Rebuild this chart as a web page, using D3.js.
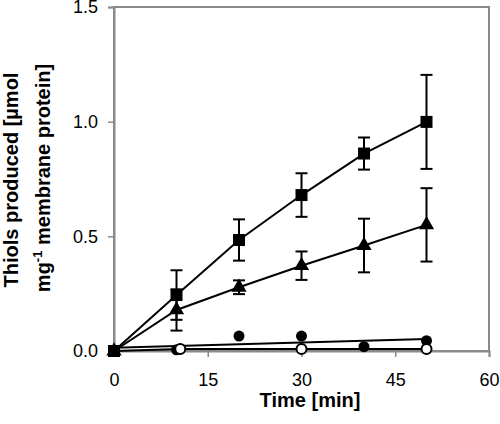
<!DOCTYPE html>
<html><head><meta charset="utf-8">
<script src="https://cdn.jsdelivr.net/npm/d3@7/dist/d3.min.js"></script>
<style>body{margin:0;background:#fff}svg{display:block}text{font-family:"Liberation Sans",Arial,sans-serif}</style>
</head><body><svg id="c" width="500" height="424"></svg>
<script>
// Data
const timeSquares = [0, 10, 20, 30, 40, 50];
const squares     = [0, 0.244, 0.484, 0.68, 0.861, 0.999];
const squaresErr  = [0, 0.108, 0.09, 0.095, 0.07, 0.205];
const timeTriangles = [0, 10, 20, 30, 40, 50];
const triangles     = [0, 0.179, 0.278, 0.372, 0.46, 0.55];
const trianglesErr  = [0, 0.09, 0.03, 0.062, 0.117, 0.16];
const timeFilled = [0, 10, 20, 30, 40, 50];
const filled     = [0, 0.005, 0.065, 0.065, 0.019, 0.045];
const timeOpen = [0, 10.6, 30, 50];
const open     = [0, 0.009, 0.009, 0.009];
const xTicks = [0, 15, 30, 45, 60];
const yTicks = [0, 0.5, 1.0, 1.5];

const svg = d3.select("#c");
const x = d3.scaleLinear().domain([0, 60]).range([114, 489]);
const y = d3.scaleLinear().domain([0, 1.5]).range([351, 7]);
const gray = "#8a8a8a";

// frame
svg.append("rect").attr("x", x(0)).attr("y", y(1.5)).attr("width", x(60)-x(0)).attr("height", y(0)-y(1.5))
  .attr("fill", "none").attr("stroke", gray).attr("stroke-width", 2);

const yAxis = d3.axisLeft(y).tickValues(yTicks).tickFormat(d3.format(".1f")).tickSize(6).tickPadding(10);
const gy = svg.append("g").attr("transform", `translate(${x(0)},0)`).call(yAxis);
const xAxis = d3.axisBottom(x).tickValues(xTicks).tickFormat(d3.format("d")).tickSize(6).tickPadding(16);
const gx = svg.append("g").attr("transform", `translate(0,${y(0)})`).call(xAxis);
[gx, gy].forEach(g => {
  g.select(".domain").attr("stroke", gray).attr("stroke-width", 2);
  g.selectAll(".tick line").attr("stroke", gray).attr("stroke-width", 1.5);
  g.selectAll(".tick text").attr("fill", "#000").style("font-size", "18px").style("font-family", "Liberation Sans, Arial, sans-serif");
});

// axis titles
svg.append("text").attr("x", 310).attr("y", 407).attr("text-anchor", "middle")
  .style("font-size", "20px").style("font-weight", "bold").text("Time [min]");
const yl = svg.append("g").attr("transform", "rotate(-90)");
yl.append("text").attr("x", -180).attr("y", 18).attr("text-anchor", "middle")
  .style("font-size", "20px").style("font-weight", "bold").text("Thiols produced [µmol");
const t2 = yl.append("text").attr("x", -178).attr("y", 50).attr("text-anchor", "middle")
  .style("font-size", "20px").style("font-weight", "bold");
t2.append("tspan").text("mg");
t2.append("tspan").attr("dy", -8).style("font-size", "13px").text("-1");
t2.append("tspan").attr("dy", 8).text(" membrane protein]");

const line = d3.line().x(d => x(d[0])).y(d => y(d[1]));

// least-squares fit for filled circles
function fit(xs, ys) {
  const n = xs.length, mx = d3.mean(xs), my = d3.mean(ys);
  let num = 0, den = 0;
  for (let i = 0; i < n; i++) { num += (xs[i]-mx)*(ys[i]-my); den += (xs[i]-mx)**2; }
  const b = num/den, a = my - b*mx;
  return [[0, a], [50, a + b*50]];
}
svg.append("path").attr("d", line(fit(timeFilled, filled))).attr("fill", "none").attr("stroke", "#000").attr("stroke-width", 2);
svg.append("path").attr("d", line(timeOpen.map((t,i) => [t, open[i]]))).attr("fill", "none").attr("stroke", "#000").attr("stroke-width", 2);
svg.append("path").attr("d", line(timeSquares.map((t,i) => [t, squares[i]]))).attr("fill", "none").attr("stroke", "#000").attr("stroke-width", 2);
svg.append("path").attr("d", line(timeTriangles.map((t,i) => [t, triangles[i]]))).attr("fill", "none").attr("stroke", "#000").attr("stroke-width", 2);

// error bars
function errBars(ts, vs, es) {
  const g = svg.append("g").attr("stroke", "#000").attr("stroke-width", 2);
  ts.forEach((t, i) => {
    if (!es[i]) return;
    const cx = x(t), y1 = y(vs[i]+es[i]), y2 = y(vs[i]-es[i]);
    g.append("line").attr("x1", cx).attr("x2", cx).attr("y1", y1).attr("y2", y2);
    g.append("line").attr("x1", cx-6).attr("x2", cx+6).attr("y1", y1).attr("y2", y1);
    g.append("line").attr("x1", cx-6).attr("x2", cx+6).attr("y1", y2).attr("y2", y2);
  });
}
errBars(timeSquares, squares, squaresErr);
errBars(timeTriangles, triangles, trianglesErr);

// markers
svg.append("g").selectAll("circle").data(timeFilled.map((t,i)=>[t,filled[i]])).join("circle")
  .attr("cx", d=>x(d[0])).attr("cy", d=>y(d[1])).attr("r", 5.5).attr("fill", "#000");
svg.append("g").selectAll("circle").data(timeOpen.map((t,i)=>[t,open[i]]).slice(1)).join("circle")
  .attr("cx", d=>x(d[0])).attr("cy", d=>y(d[1])).attr("r", 5).attr("fill", "#fff").attr("stroke", "#000").attr("stroke-width", 2);
svg.append("g").selectAll("path").data(timeTriangles.map((t,i)=>[t,triangles[i]])).join("path")
  .attr("d", d3.symbol(d3.symbolTriangle, 100)).attr("transform", d=>`translate(${x(d[0])},${y(d[1])})`).attr("fill", "#000");
svg.append("g").selectAll("rect").data(timeSquares.map((t,i)=>[t,squares[i]])).join("rect")
  .attr("x", d=>x(d[0])-6).attr("y", d=>y(d[1])-6).attr("width", 12).attr("height", 12).attr("fill", "#000");
</script></body></html>
